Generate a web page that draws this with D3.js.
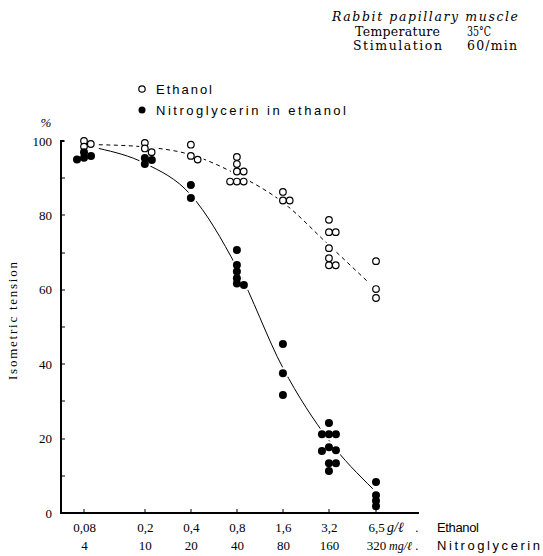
<!DOCTYPE html>
<html>
<head>
<meta charset="utf-8">
<script src="https://cdn.jsdelivr.net/npm/d3@7"></script>
<style>
  body { margin: 0; background: #fff; }
  svg { display: block; }
</style>
</head>
<body>
<div id="chart"></div>
<script>
// concentrations on the x axis (g/l ethanol, mg/l nitroglycerin)
const ethConc = [0.08, 0.2, 0.4, 0.8, 1.6, 3.2, 6.5];
const ethLabels = ["0,08", "0,2", "0,4", "0,8", "1,6", "3,2", "6,5"];
const ntgLabels = ["4", "10", "20", "40", "80", "160", "320"];
const yTicks = [0, 20, 40, 60, 80, 100];
const yMinor = [10, 30, 50, 70, 90];

// measured points: [concentration, % tension]
const ethanolPoints = [
    [0.08, 100], [0.08, 99.2], [0.08, 98.5],
    [0.2, 99.5], [0.2, 98], [0.2, 97],
    [0.4, 99], [0.4, 96], [0.4, 95],
    [0.8, 95.7], [0.8, 93.8], [0.8, 91.8], [0.8, 91.8], [0.8, 89.1], [0.8, 89.1], [0.8, 89.1],
    [1.6, 86.3], [1.6, 84], [1.6, 84],
    [3.2, 78.8], [3.2, 75.5], [3.2, 75.5], [3.2, 71.2], [3.2, 68.5], [3.2, 66.6], [3.2, 66.6],
    [6.5, 67.7], [6.5, 60.2], [6.5, 57.8]
];
const ntgPoints = [
    [0.08, 97], [0.08, 96], [0.08, 95.5], [0.08, 95],
    [0.2, 95.4], [0.2, 94.9], [0.2, 93.8],
    [0.4, 88.2], [0.4, 84.7],
    [0.8, 70.7], [0.8, 66.7], [0.8, 64.9], [0.8, 63.1], [0.8, 61.7], [0.8, 61.3],
    [1.6, 45.4], [1.6, 37.6], [1.6, 31.7],
    [3.2, 24.2], [3.2, 21.2], [3.2, 21.2], [3.2, 21.2], [3.2, 17.7], [3.2, 16.9], [3.2, 16.7],
    [3.2, 13.4], [3.2, 13.4], [3.2, 11.3],
    [6.5, 8.3], [6.5, 4.8], [6.5, 3.3], [6.5, 1.8]
];

// hand-drawn fitted curves
const ethFitConc = [0.1, 0.2, 0.4, 0.8, 1.6, 3.2, 5.8];
const ethFitVal = [99, 98.4, 96.3, 91, 83.5, 72, 62];
const ntgFitConc = [0.1, 0.2, 0.4, 0.8, 1.6, 3.2, 6.2];
const ntgFitVal = [98, 94, 85.5, 66, 39, 19.5, 6.5];

const W = 543, H = 556;
const svg = d3.select('#chart').append('svg')
    .attr('width', W)
    .attr('height', H);

const x = d3.scaleLog().domain([0.08, 6.5]).range([84, 376]);
const y = d3.scaleLinear().domain([0, 100]).range([513, 141]);
const axisLeftX = 61, axisRightX = 419;

const serif = '"Liberation Serif", "DejaVu Serif", serif';
const wideSerif = '"DejaVu Serif", serif';
const sans = '"Liberation Sans", "DejaVu Sans", sans-serif';

// header
const header = svg.append('g')
    .attr('font-family', wideSerif)
    .attr('font-size', 12.5)
    .attr('fill', '#000');
header.append('text')
    .attr('x', 332).attr('y', 21)
    .attr('font-style', 'italic')
    .attr('textLength', 186).attr('lengthAdjust', 'spacing')
    .text('Rabbit papillary muscle');
header.append('text').attr('x', 355).attr('y', 36)
    .attr('textLength', 85).attr('lengthAdjust', 'spacing')
    .text('Temperature');
header.append('text').attr('x', 467).attr('y', 36)
    .attr('textLength', 24).attr('lengthAdjust', 'spacingAndGlyphs')
    .text('35°C');
header.append('text').attr('x', 353).attr('y', 50)
    .attr('textLength', 89).attr('lengthAdjust', 'spacing')
    .text('Stimulation');
header.append('text').attr('x', 467).attr('y', 50)
    .attr('textLength', 50).attr('lengthAdjust', 'spacing')
    .text('60/min');

// legend
const legend = svg.append('g').attr('font-family', sans).attr('font-size', 13);
legend.append('circle').attr('cx', 142).attr('cy', 89).attr('r', 3.2)
    .attr('fill', '#fff').attr('stroke', '#000').attr('stroke-width', 1.2);
legend.append('text').attr('x', 156).attr('y', 93.5)
    .attr('textLength', 56).attr('lengthAdjust', 'spacing')
    .text('Ethanol');
legend.append('circle').attr('cx', 142).attr('cy', 110).attr('r', 3.5).attr('fill', '#000');
legend.append('text').attr('x', 156).attr('y', 114.5)
    .attr('textLength', 190).attr('lengthAdjust', 'spacing')
    .text('Nitroglycerin in ethanol');

// y tick labels
const yLabels = svg.append('g')
    .attr('transform', `translate(${axisLeftX},0)`)
    .call(d3.axisLeft(y).tickValues(yTicks).tickSize(0).tickPadding(9));
yLabels.select('.domain').remove();
yLabels.selectAll('line').remove();
yLabels.selectAll('text')
    .attr('font-family', serif)
    .attr('font-size', 13);

svg.append('text')
    .attr('x', 46).attr('y', 127)
    .attr('text-anchor', 'middle')
    .attr('font-family', serif)
    .attr('font-style', 'italic')
    .attr('font-size', 13)
    .text('%');

svg.append('text')
    .attr('transform', 'translate(17,321) rotate(-90)')
    .attr('text-anchor', 'middle')
    .attr('font-family', serif)
    .attr('font-size', 13)
    .attr('textLength', 118).attr('lengthAdjust', 'spacing')
    .text('Isometric tension');

// two rows of x labels
const xLabels = svg.append('g')
    .attr('transform', `translate(0,${y(0)})`)
    .call(d3.axisBottom(x)
        .tickValues(ethConc)
        .tickSize(0)
        .tickPadding(10)
        .tickFormat((d, i) => ethLabels[i]));
xLabels.select('.domain').remove();
xLabels.selectAll('line').remove();
xLabels.selectAll('text')
    .attr('font-family', serif)
    .attr('font-size', 13);

const xLabels2 = svg.append('g')
    .attr('transform', `translate(0,${y(0)})`)
    .call(d3.axisBottom(x)
        .tickValues(ethConc)
        .tickSize(0)
        .tickPadding(28)
        .tickFormat((d, i) => ntgLabels[i]));
xLabels2.select('.domain').remove();
xLabels2.selectAll('line').remove();
xLabels2.selectAll('text')
    .attr('font-family', serif)
    .attr('font-size', 13);

const unitX = x(6.5) + 11;
svg.append('text')
    .attr('x', unitX).attr('y', 532)
    .attr('font-family', serif).attr('font-size', 14).attr('font-style', 'italic')
    .text('g/ℓ');
svg.append('text')
    .attr('x', unitX + 28).attr('y', 532)
    .attr('font-family', sans).attr('font-size', 13)
    .text('.');
svg.append('text')
    .attr('x', 437).attr('y', 532)
    .attr('font-family', sans).attr('font-size', 13)
    .attr('textLength', 42).attr('lengthAdjust', 'spacing')
    .text('Ethanol');
svg.append('text')
    .attr('x', unitX + 2).attr('y', 550)
    .attr('font-family', serif).attr('font-size', 12).attr('font-style', 'italic')
    .text('mg/ℓ');
svg.append('text')
    .attr('x', unitX + 28).attr('y', 550)
    .attr('font-family', sans).attr('font-size', 13)
    .text('.');
svg.append('text')
    .attr('x', 437).attr('y', 550)
    .attr('font-family', sans).attr('font-size', 13)
    .attr('textLength', 103).attr('lengthAdjust', 'spacing')
    .text('Nitroglycerin');

// fitted curves
const curve = d3.line()
    .x(d => x(d[0]))
    .y(d => y(d[1]))
    .curve(d3.curveMonotoneX);

svg.append('path')
    .datum(ethFitConc.map((c, i) => [c, ethFitVal[i]]))
    .attr('fill', 'none')
    .attr('stroke', '#000')
    .attr('stroke-width', 1)
    .attr('stroke-dasharray', '4,3.5')
    .attr('d', curve);

svg.append('path')
    .datum(ntgFitConc.map((c, i) => [c, ntgFitVal[i]]))
    .attr('fill', 'none')
    .attr('stroke', '#000')
    .attr('stroke-width', 1)
    .attr('d', curve);

// spread overlapping points within a concentration group sideways
function dodge(points, step, minDist) {
    const groups = d3.group(points, d => d[0]);
    const out = [];
    groups.forEach((pts, c) => {
        const placed = [];
        pts.slice().sort((a, b) => b[1] - a[1]).forEach(p => {
            const cx0 = x(c), cy = y(p[1]);
            for (let k = 0; k < 20; k++) {
                const off = k === 0 ? 0 : (k % 2 ? 1 : -1) * Math.ceil(k / 2) * step;
                const cx = cx0 + off;
                if (placed.every(q => Math.hypot(q.cx - cx, q.cy - cy) >= minDist)) {
                    placed.push({cx, cy});
                    break;
                }
            }
        });
        out.push(...placed);
    });
    return out;
}

const ethPos = dodge(ethanolPoints, 6.8, 4.5);
const ntgPos = dodge(ntgPoints, 7, 4.5);

// white halos break the curves around the points
svg.append('g').selectAll('circle')
    .data(ethPos.concat(ntgPos))
    .enter().append('circle')
    .attr('cx', d => d.cx).attr('cy', d => d.cy)
    .attr('r', 6)
    .attr('fill', '#fff');

svg.append('g').selectAll('circle')
    .data(ethPos)
    .enter().append('circle')
    .attr('cx', d => d.cx).attr('cy', d => d.cy)
    .attr('r', 3.3)
    .attr('fill', '#fff')
    .attr('stroke', '#000')
    .attr('stroke-width', 1.2);

svg.append('g').selectAll('circle')
    .data(ntgPos)
    .enter().append('circle')
    .attr('cx', d => d.cx).attr('cy', d => d.cy)
    .attr('r', 4)
    .attr('fill', '#000');

// axis frame, with the small hook at the top of the y axis
const frame = d3.line()([
    [axisLeftX + 3, Math.round(y(100))],
    [axisLeftX, Math.round(y(100))],
    [axisLeftX, Math.round(y(0))],
    [axisRightX, Math.round(y(0))]
]);
svg.append('path')
    .attr('class', 'frame')
    .attr('d', frame)
    .attr('fill', 'none')
    .attr('stroke', 'black')
    .attr('stroke-width', 2);

// ticks: inward on y every 10, upward on x at each concentration
const tickPath = yTicks.concat(yMinor)
    .map(v => `M${axisLeftX},${Math.round(y(v))}h4`)
    .concat(ethConc.map(c => `M${Math.round(x(c))},${Math.round(y(0))}v-4`))
    .join('');
svg.append('path')
    .attr('class', 'frame-ticks')
    .attr('d', tickPath)
    .attr('fill', 'none')
    .attr('stroke', 'black')
    .attr('stroke-width', 1);
</script>
</body>
</html>
